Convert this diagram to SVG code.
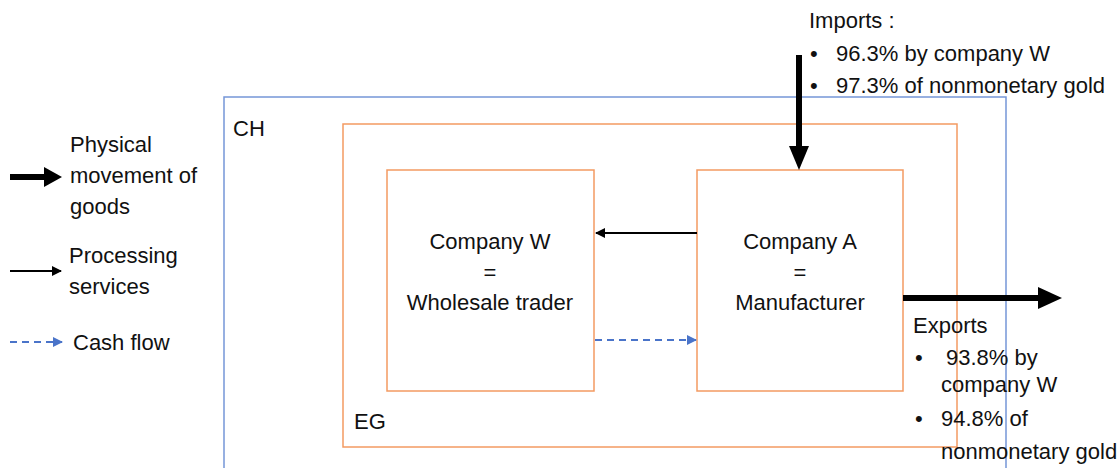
<svg xmlns="http://www.w3.org/2000/svg" width="1117" height="468" viewBox="0 0 1117 468">
<style>
text{font-family:"Liberation Sans",Arial,sans-serif;font-size:22px;fill:#111}
.ch{fill:none;stroke:#7596D8;stroke-width:1.5}
.eg{fill:none;stroke:#F39A62;stroke-width:1.5}
.box{fill:#fff;stroke:#F39A62;stroke-width:1.5}
.thick{stroke:#000;stroke-width:6;fill:none}
.thin{stroke:#000;stroke-width:2;fill:none}
.cash{stroke:#4A74C9;stroke-width:2;stroke-dasharray:7,5;fill:none}
</style>
<defs>
<marker id="ah" markerWidth="10" markerHeight="10" refX="9" refY="5" orient="auto" markerUnits="userSpaceOnUse"><path d="M0,0 L10,5 L0,10 Z" fill="#000"/></marker>
<marker id="ahb" markerWidth="10" markerHeight="10" refX="9" refY="5" orient="auto" markerUnits="userSpaceOnUse"><path d="M0,0 L10,5 L0,10 Z" fill="#4A74C9"/></marker>
</defs>
<g id="CH">
<path class="ch" d="M224,470 L224,97 L1006,97 L1006,470"/>
<text x="233" y="136">CH</text>
</g>
<g id="EG">
<rect class="eg" x="343" y="124" width="614" height="323"/>
<text x="354" y="429">EG</text>
</g>
<g id="companyW">
<rect class="box" x="387" y="170" width="207" height="221"/>
<text x="490" y="249" text-anchor="middle">Company W</text>
<text x="490" y="280" text-anchor="middle">=</text>
<text x="490" y="310" text-anchor="middle">Wholesale trader</text>
</g>
<g id="companyA">
<rect class="box" x="697" y="170" width="206" height="221"/>
<text x="800" y="249" text-anchor="middle">Company A</text>
<text x="800" y="280" text-anchor="middle">=</text>
<text x="800" y="310" text-anchor="middle">Manufacturer</text>
</g>
<g id="imports">
<text x="809" y="28">Imports :</text>
<text x="810" y="61">•</text>
<text x="836" y="61">96.3% by company W</text>
<text x="810" y="93">•</text>
<text x="836" y="93">97.3% of nonmonetary gold</text>
</g>
<g id="exports">
<text x="913" y="333">Exports</text>
<text x="915" y="365">•</text>
<text x="946" y="365">93.8% by</text>
<text x="941" y="392">company W</text>
<text x="915" y="426">•</text>
<text x="941" y="426">94.8% of</text>
<text x="941" y="459">nonmonetary gold</text>
</g>
<g id="legend">
<path class="thick" d="M10,177 L46,177"/>
<path d="M44,167 L62,177 L44,187 Z" fill="#000"/>
<text x="70" y="152">Physical</text>
<text x="70" y="183">movement of</text>
<text x="70" y="214">goods</text>
<path class="thin" d="M10,271 L61,271" marker-end="url(#ah)"/>
<text x="69" y="263">Processing</text>
<text x="69" y="294">services</text>
<path class="cash" d="M10,342 L62,342" marker-end="url(#ahb)"/>
<text x="73" y="350">Cash flow</text>
</g>
<g id="connectors">
<path class="thick" d="M799,55 L799,148"/>
<path d="M789,146 L799,170 L809,146 Z" fill="#000"/>
<path class="thick" d="M903,298 L1040,298"/>
<path d="M1038,287 L1062,298 L1038,309 Z" fill="#000"/>
<path class="thin" d="M697,233 L596,233" marker-end="url(#ah)"/>
<path class="cash" d="M595,340 L696,340" marker-end="url(#ahb)"/>
</g>
</svg>
